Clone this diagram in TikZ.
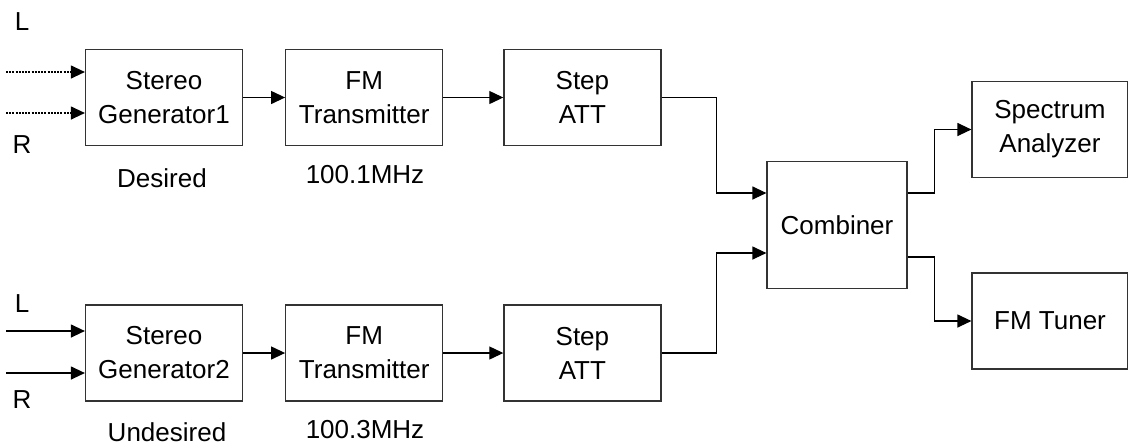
\documentclass[tikz,border=0pt]{standalone}
\usepackage{fontspec}
\setmainfont{Liberation Sans}
\usepackage{tikz}
\usetikzlibrary{positioning, arrows.meta, calc}
\tikzset{
  block/.style={rectangle, minimum width=78.5pt, minimum height=48pt, text centered, align=center, draw=black!80, line width=0.6pt, inner sep=0pt},
  arrow/.style={line width=0.6pt, -{Triangle[length=7pt, width=6.5pt]}},
  dasharrow/.style={arrow, dash pattern=on 1pt off 0.6pt},
  lbl/.style={inner sep=0pt}
}

\begin{document}
\begin{tikzpicture}[x=0.5pt, y=-0.5pt, every node/.style={font=\fontsize{13}{17}\selectfont}]
        \useasboundingbox (0,0) rectangle (1128,446);

        % desired chain
        \node (gen1) [block] at (164,97.5) {Stereo\\Generator1};
        \node (fm1) [block, right=21pt of gen1] {FM\\Transmitter};
        \node (att1) [block, right=30pt of fm1] {Step\\ATT};

        % undesired chain
        \node (gen2) [block] at (164,353) {Stereo\\Generator2};
        \node (fm2) [block, right=21pt of gen2] {FM\\Transmitter};
        \node (att2) [block, right=30pt of fm2] {Step\\ATT};

        \node (comb) [block, minimum width=70pt, minimum height=63.5pt] at (837,225) {Combiner};
        \node (spec) [block, minimum width=78pt] at (1050,129.5) {Spectrum\\Analyzer};
        \node (tuner) [block, minimum width=78pt] at (1050,321) {FM Tuner};

        \node (l1) [lbl] at (22,22) {L};
        \node (r1) [lbl] at (22,145) {R};
        \node (l2) [lbl] at (22,304) {L};
        \node (r2) [lbl] at (22,400) {R};
        \node (des) [lbl] at (162,178) {Desired};
        \node (f1) [lbl] at (365,175) {100.1MHz};
        \node (undes) [lbl] at (167,432) {Undesired};
        \node (f2) [lbl] at (365,430) {100.3MHz};

        \coordinate (inL1) at (6,72);
        \coordinate (inR1) at (6,113);
        \coordinate (inL2) at (6,331);
        \coordinate (inR2) at (6,373);
        \coordinate (cin1) at ($(comb.west)+(0,16pt)$);
        \coordinate (cin2) at ($(comb.west)+(0,-14pt)$);
        \coordinate (cout1) at ($(comb.east)+(0,16pt)$);
        \coordinate (cout2) at ($(comb.east)+(0,-16pt)$);

        \draw [dasharrow] (inL1) -- (inL1 -| gen1.west);
        \draw [dasharrow] (inR1) -- (inR1 -| gen1.west);
        \draw [arrow] (inL2) -- (inL2 -| gen2.west);
        \draw [arrow] (inR2) -- (inR2 -| gen2.west);

        \draw [arrow] (gen1) -- (fm1);
        \draw [arrow] (fm1) -- (att1);
        \draw [arrow] (gen2) -- (fm2);
        \draw [arrow] (fm2) -- (att2);

        \draw [arrow] (att1.east) -- ++(27.5pt,0) |- (cin1);
        \draw [arrow] (att2.east) -- ++(27.5pt,0) |- (cin2);
        \draw [arrow] (cout1) -- ++(13.5pt,0) |- (spec.west);
        \draw [arrow] (cout2) -- ++(13.5pt,0) |- (tuner.west);
    \end{tikzpicture}
\end{document}
